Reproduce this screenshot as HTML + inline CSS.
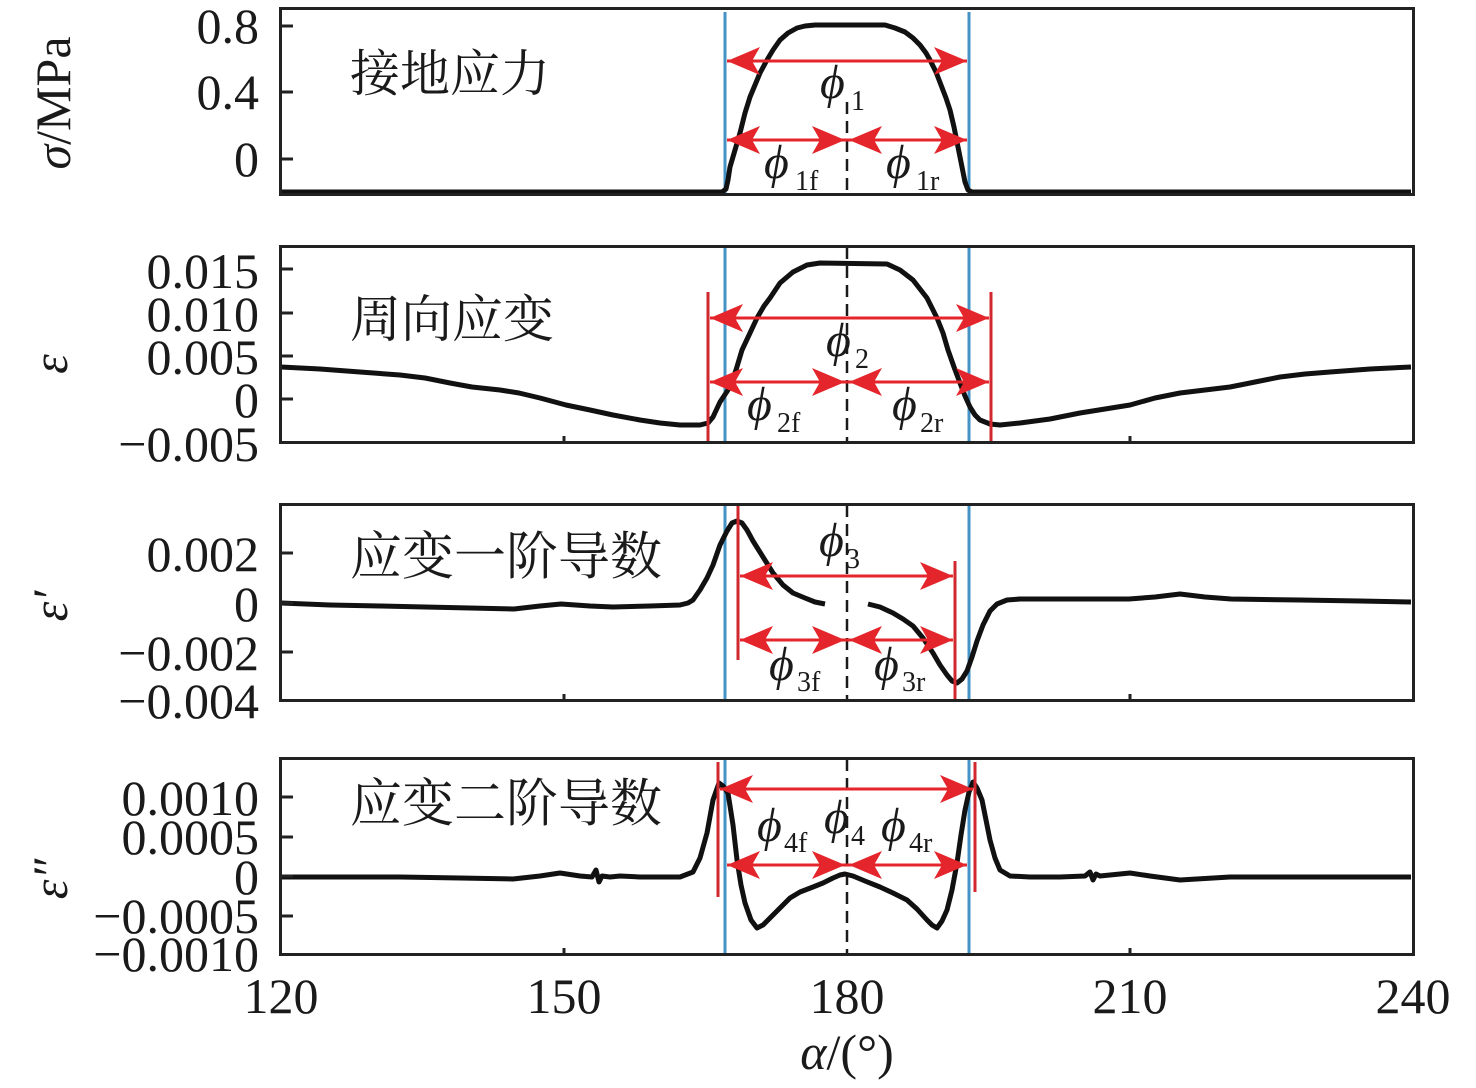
<!DOCTYPE html>
<html><head><meta charset="utf-8"><style>
html,body{margin:0;padding:0;background:#fff;}
svg{display:block;}
.t{font-family:"Liberation Serif","DejaVu Serif",serif;font-size:50px;fill:#1a1a1a;}
.cn{font-family:"Liberation Serif","Noto Serif CJK SC","Noto Sans CJK SC",serif;font-size:51px;fill:#1a1a1a;}
.ph{font-family:"Liberation Serif","DejaVu Serif",serif;font-style:italic;font-size:48px;fill:#1a1a1a;}
.sb{font-family:"Liberation Serif","DejaVu Serif",serif;font-size:28px;fill:#1a1a1a;}
</style></head><body>
<svg width="1476" height="1088" viewBox="0 0 1476 1088" xmlns="http://www.w3.org/2000/svg">
<rect width="1476" height="1088" fill="#fff"/>

<!-- blue lines -->
<g stroke="#4593c6" stroke-width="3">
<line x1="725" y1="12" x2="725" y2="193"/><line x1="969" y1="12" x2="969" y2="193"/>
<line x1="725" y1="247" x2="725" y2="442"/><line x1="969" y1="247" x2="969" y2="442"/>
<line x1="725" y1="505" x2="725" y2="700"/><line x1="969" y1="505" x2="969" y2="700"/>
<line x1="725" y1="759" x2="725" y2="954"/><line x1="969" y1="759" x2="969" y2="954"/>
</g>

<!-- dashed center lines -->
<g stroke="#1a1a1a" stroke-width="2.5" stroke-dasharray="12 7">
<line x1="847" y1="102" x2="847" y2="194"/>
<line x1="847" y1="247" x2="847" y2="442"/>
<line x1="847" y1="505" x2="847" y2="700"/>
<line x1="847" y1="759" x2="847" y2="954"/>
</g>

<!-- curves -->
<g fill="none" stroke="#111" stroke-width="5" stroke-linejoin="round" stroke-linecap="butt">
<polyline points="280,192 722,192 726,189 728,180 730,167 735,150 740,133 745,113 750,97 755,85 760,73 767,60 773,50 780,40 788,33 797,28 805,26 815,25 885,25 895,28 905,32 913,38 920,45 926,53 930,60 936,72 941,85 946,98 950,110 954,127 958,147 962,167 965,182 968,190 972,192 1411,192"/>
<polyline points="281,367 320,369 360,372 400,375 425,378 450,383 472,387 500,390 519,393 540,398 566,405 590,410 613,415 640,420 660,423 680,425 700,425 708,423 713,417 720,402 730,387 736,370 742,350 750,333 757,318 764,306 770,298 780,283 793,272 807,265 820,263 887,264 900,270 913,280 927,298 937,318 943,333 948,350 954,367 960,383 965,396 970,407 975,415 980,420 990,424 1000,425 1020,423 1050,419 1080,413 1105,409 1130,405 1155,398 1180,393 1205,390 1230,387 1255,382 1280,377 1305,374 1330,372 1370,369 1411,367"/>
<polyline points="281,603 330,605 380,606 425,607 470,608 514,609 540,606 561,604 590,606 613,607 650,606 680,605 688,603 693,600 700,590 707,578 713,565 720,545 727,531 732,523 737,521 742,523 747,530 753,541 763,557 773,573 783,585 793,593 805,598 815,602 825,604"/>
<polyline points="868,604 880,607 893,613 903,619 913,626 923,638 933,653 940,665 947,675 952,681 957,683 962,679 967,671 972,657 977,641 983,625 990,611 997,604 1007,600 1020,599 1060,599 1100,599 1129,599 1155,597 1180,594 1205,597 1231,599 1300,600 1360,601 1411,602"/>
<polyline points="281,877 400,877 460,878 513,879 540,876 560,873 580,876 592,877 596,870 599,882 602,876 610,877 620,876 640,877 680,877 693,872 700,858 707,833 713,800 719,783 723,786 728,793 733,825 737,860 741,885 745,903 751,920 757,928 763,925 770,918 780,908 790,898 800,892 813,887 823,883 833,878 840,875 845,874 853,876 865,881 880,887 893,893 907,900 917,909 927,920 932,925 937,928 942,921 947,910 952,890 957,863 961,835 965,810 969,792 973,782 977,788 982,800 986,820 990,840 995,858 1000,870 1010,876 1030,877 1060,877 1085,876 1090,872 1093,880 1096,874 1100,876 1130,873 1150,876 1180,880 1230,877 1411,877"/>
</g>

<!-- red vertical lines -->
<g stroke="#d0282e" stroke-width="3">
<line x1="708" y1="292" x2="708" y2="442"/><line x1="991" y1="292" x2="991" y2="442"/>
<line x1="738" y1="505" x2="738" y2="660"/><line x1="955" y1="561" x2="955" y2="700"/>
<line x1="718" y1="762" x2="718" y2="897"/><line x1="975" y1="762" x2="975" y2="892"/>
</g>

<!-- arrows -->
<g stroke="#e4252b" stroke-width="3">
<line x1="727" y1="61" x2="967" y2="61"/><line x1="727" y1="140" x2="967" y2="140"/>
<line x1="710" y1="318" x2="989" y2="318"/><line x1="710" y1="382" x2="989" y2="382"/>
<line x1="740" y1="576" x2="953" y2="576"/><line x1="740" y1="640" x2="953" y2="640"/>
<line x1="720" y1="789" x2="973" y2="789"/><line x1="727" y1="865" x2="967" y2="865"/>
</g>
<g fill="#e4252b">
<path d="M727,61 L760,47 L752,61 L760,75 Z M967,61 L934,47 L942,61 L934,75 Z"/>
<path d="M727,140 L760,126 L752,140 L760,154 Z M845,140 L812,126 L820,140 L812,154 Z M849,140 L882,126 L874,140 L882,154 Z M967,140 L934,126 L942,140 L934,154 Z"/>
<path d="M710,318 L743,304 L735,318 L743,332 Z M989,318 L956,304 L964,318 L956,332 Z"/>
<path d="M710,382 L743,368 L735,382 L743,396 Z M845,382 L812,368 L820,382 L812,396 Z M849,382 L882,368 L874,382 L882,396 Z M989,382 L956,368 L964,382 L956,396 Z"/>
<path d="M740,576 L773,562 L765,576 L773,590 Z M953,576 L920,562 L928,576 L920,590 Z"/>
<path d="M740,640 L773,626 L765,640 L773,654 Z M845,640 L812,626 L820,640 L812,654 Z M849,640 L882,626 L874,640 L882,654 Z M953,640 L920,626 L928,640 L920,654 Z"/>
<path d="M720,789 L753,775 L745,789 L753,803 Z M973,789 L940,775 L948,789 L940,803 Z"/>
<path d="M727,865 L760,851 L752,865 L760,879 Z M845,865 L812,851 L820,865 L812,879 Z M849,865 L882,851 L874,865 L882,879 Z M967,865 L934,851 L942,865 L934,879 Z"/>
</g>

<!-- frames -->
<g fill="none" stroke="#222" stroke-width="3">
<rect x="280.5" y="8.5" width="1133" height="186"/>
<rect x="280.5" y="246.5" width="1133" height="196"/>
<rect x="280.5" y="504.5" width="1133" height="196"/>
<rect x="280.5" y="758.5" width="1133" height="196"/>
</g>
<!-- ticks -->
<g stroke="#222" stroke-width="3">
<line x1="280" y1="26" x2="293" y2="26"/><line x1="280" y1="92" x2="293" y2="92"/><line x1="280" y1="159" x2="293" y2="159"/>
<line x1="280" y1="269" x2="293" y2="269"/><line x1="280" y1="313" x2="293" y2="313"/><line x1="280" y1="356" x2="293" y2="356"/><line x1="280" y1="399" x2="293" y2="399"/>
<line x1="280" y1="553" x2="293" y2="553"/><line x1="280" y1="603" x2="293" y2="603"/><line x1="280" y1="652" x2="293" y2="652"/>
<line x1="280" y1="797" x2="293" y2="797"/><line x1="280" y1="837" x2="293" y2="837"/><line x1="280" y1="876" x2="293" y2="876"/><line x1="280" y1="916" x2="293" y2="916"/>
<line x1="564" y1="443" x2="564" y2="436"/><line x1="1130" y1="443" x2="1130" y2="436"/>
<line x1="564" y1="701" x2="564" y2="694"/><line x1="1130" y1="701" x2="1130" y2="694"/>
<line x1="564" y1="955" x2="564" y2="948"/><line x1="1130" y1="955" x2="1130" y2="948"/>
</g>

<!-- y tick labels -->
<g class="t" text-anchor="end">
<text x="259" y="43">0.8</text><text x="259" y="109">0.4</text><text x="259" y="176">0</text>
<text x="259" y="288">0.015</text><text x="259" y="331">0.010</text><text x="259" y="374">0.005</text><text x="259" y="417">0</text><text x="259" y="461">−0.005</text>
<text x="259" y="571">0.002</text><text x="259" y="621">0</text><text x="259" y="670">−0.002</text><text x="259" y="718">−0.004</text>
<text x="259" y="815">0.0010</text><text x="259" y="854">0.0005</text><text x="259" y="894">0</text><text x="259" y="933">−0.0005</text><text x="259" y="971">−0.0010</text>
</g>
<!-- x tick labels -->
<g class="t" text-anchor="middle">
<text x="281" y="1013">120</text><text x="564" y="1013">150</text><text x="847" y="1013">180</text><text x="1130" y="1013">210</text><text x="1413" y="1013">240</text>
<text x="847" y="1069"><tspan font-style="italic">α</tspan>/(°)</text>
</g>
<!-- y axis labels -->
<g class="t" text-anchor="middle">
<text transform="translate(70,103) rotate(-90)"><tspan font-style="italic">σ</tspan>/MPa</text>
<text transform="translate(67,364) rotate(-90)" font-style="italic">ε</text>
<text transform="translate(67,606) rotate(-90)" font-style="italic">ε′</text>
<text transform="translate(67,879) rotate(-90)" font-style="italic">ε″</text>
</g>
<!-- chinese labels -->
<g class="cn" dominant-baseline="central">
<text x="350" y="74" font-size="50">接地应力</text>
<text x="350" y="321" font-size="51">周向应变</text>
<text x="350" y="558" font-size="52">应变一阶导数</text>
<text x="350" y="805" font-size="52">应变二阶导数</text>
</g>
<!-- phi labels -->
<g>
<text class="ph" x="820" y="98">ϕ</text><text class="sb" x="851" y="110">1</text>
<text class="ph" x="764" y="178">ϕ</text><text class="sb" x="795" y="190">1f</text>
<text class="ph" x="886" y="178">ϕ</text><text class="sb" x="916" y="190">1r</text>
<text class="ph" x="826" y="356">ϕ</text><text class="sb" x="855" y="368">2</text>
<text class="ph" x="747" y="420">ϕ</text><text class="sb" x="777" y="432">2f</text>
<text class="ph" x="892" y="420">ϕ</text><text class="sb" x="920" y="432">2r</text>
<text class="ph" x="819" y="556">ϕ</text><text class="sb" x="846" y="568">3</text>
<text class="ph" x="769" y="680">ϕ</text><text class="sb" x="797" y="691">3f</text>
<text class="ph" x="874" y="680">ϕ</text><text class="sb" x="902" y="691">3r</text>
<text class="ph" x="757" y="841">ϕ</text><text class="sb" x="784" y="852">4f</text>
<text class="ph" x="824" y="833">ϕ</text><text class="sb" x="851" y="845">4</text>
<text class="ph" x="881" y="841">ϕ</text><text class="sb" x="909" y="852">4r</text>
</g>
</svg>
</body></html>
